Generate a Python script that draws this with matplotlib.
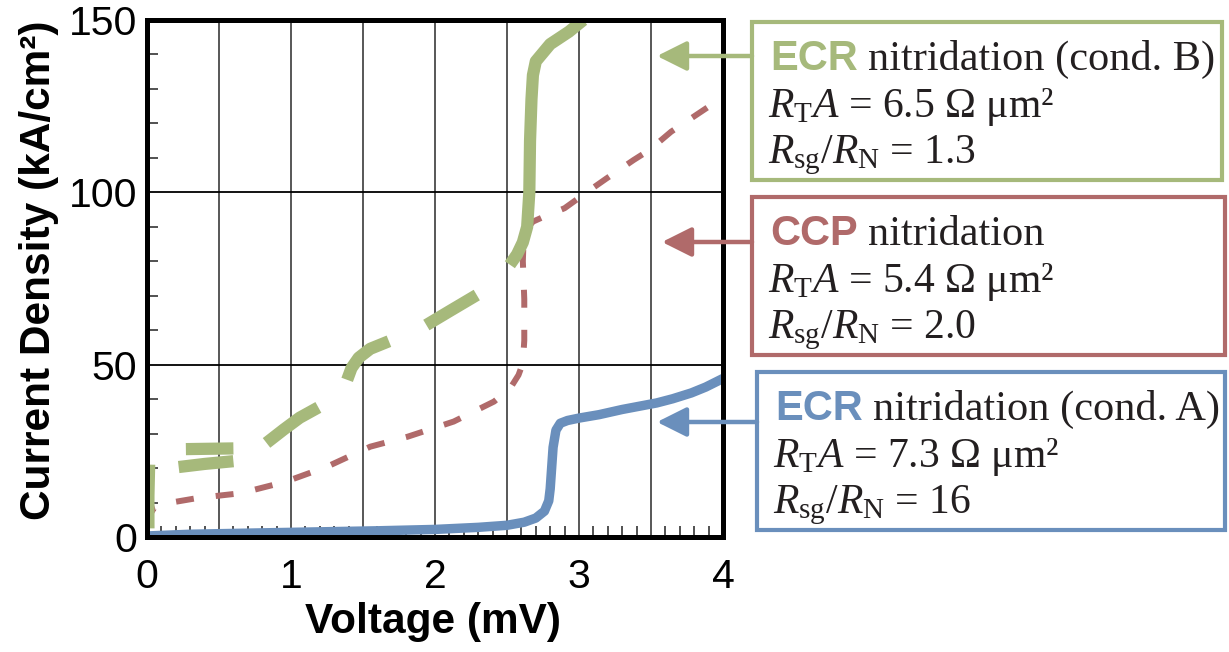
import numpy as np
import matplotlib
matplotlib.use('Agg')
import matplotlib.pyplot as plt
from matplotlib.patches import Rectangle, FancyArrowPatch
from matplotlib.ticker import MultipleLocator, FuncFormatter

plt.rcParams['font.family'] = 'Liberation Sans'
plt.rcParams['mathtext.fontset'] = 'custom'
plt.rcParams['mathtext.rm'] = 'Liberation Serif'
plt.rcParams['mathtext.it'] = 'Liberation Serif:italic'

# ECR nitridation (cond. A) - blue, solid
v_ecr_a = [0, 0.3, 0.8, 1.2, 1.6, 2.0, 2.3, 2.5, 2.62, 2.7, 2.76, 2.79, 2.80, 2.81,
           2.82, 2.84, 2.87, 2.92, 3.0, 3.14, 3.3, 3.54, 3.65, 3.78, 3.88, 4.0]
j_ecr_a = [0.3, 0.8, 1.2, 1.5, 1.8, 2.2, 2.8, 3.4, 4.3, 5.5, 7.5, 10.5, 14, 20,
           26, 31, 33, 33.8, 34.5, 35.5, 37, 38.9, 40.1, 41.8, 43.5, 46]

# CCP nitridation - red, short dashes
v_ccp = [0, 0.02, 0.05, 0.14, 0.35, 0.65, 0.96, 1.25, 1.55, 1.81, 2.13, 2.41, 2.52,
         2.58, 2.61, 2.62, 2.62, 2.61, 2.615, 2.63, 2.68, 2.76, 2.90, 3.06, 3.19,
         3.38, 3.49, 3.64, 3.78, 3.97, 4.0]
j_ccp = [4, 6.5, 8.5, 9.8, 11.3, 12.7, 16, 20.4, 26.2, 29.1, 33.5, 39.3, 43,
         47, 50.4, 57, 69, 80, 86, 89, 91.5, 93, 95.4, 100.2, 104,
         109.4, 112.3, 117.6, 121.5, 126.8, 127.5]

# ECR nitridation (cond. B) - green, measured in pieces (nan = no data)
v_ecr_b = [0.01, 0.01, 0.015, np.nan,
           0.22, 0.40, 0.60, np.nan,
           0.27, 0.60, np.nan,
           0.83, 0.95, 1.06, 1.19, np.nan,
           1.39, 1.42, 1.47, 1.55, 1.68, np.nan,
           1.94, 2.10, 2.29, np.nan,
           2.52, 2.57, 2.61, 2.64, 2.655, 2.66, 2.67, 2.68, 2.70, 2.80, 2.93, 3.03]
j_ecr_b = [2.5, 12, 21, np.nan,
           20.3, 21.2, 22.0, np.nan,
           25.5, 25.7, np.nan,
           27.3, 31.2, 34.6, 37.6, np.nan,
           45.6, 49.0, 52.0, 54.6, 56.8, np.nan,
           61.5, 65.5, 70.2, np.nan,
           79.0, 82.0, 85.5, 90, 100, 115, 127, 134, 138, 143, 146.6, 150]

green = '#a6b97b'
red = '#b06a6a'
blue = '#6a8fbc'

W, H = 1229, 652
fig = plt.figure(figsize=(W / 100, H / 100), dpi=100)
ax = fig.add_axes([147 / W, 1 - 537 / H, 576 / W, 517 / H])

ax.plot(v_ecr_a, j_ecr_a, color=blue, lw=6.8, solid_capstyle='butt', zorder=3)
ax.plot(v_ccp, j_ccp, color=red, lw=4.3, linestyle=(0, (3.0, 3.7)),
        dash_capstyle='butt', zorder=3)
ax.plot(v_ecr_b, j_ecr_b, color=green, lw=8.8, solid_capstyle='butt', zorder=3)

ax.set_xlim(0, 4)
ax.set_ylim(0, 150)

ax.xaxis.set_major_locator(MultipleLocator(0.5))
ax.xaxis.set_minor_locator(MultipleLocator(0.1))
ax.xaxis.set_major_formatter(FuncFormatter(lambda v, p: '%d' % v if abs(v - round(v)) < 1e-6 else ''))
ax.yaxis.set_major_locator(MultipleLocator(50))
ax.yaxis.set_minor_locator(MultipleLocator(10))

ax.grid(True, which='major', axis='x', color='#4a4a4a', lw=1.3)
ax.grid(True, which='major', axis='y', color='black', lw=1.3)
ax.tick_params(which='major', length=0, labelsize=29.5)
ax.tick_params(axis='x', which='major', pad=15)
ax.tick_params(axis='y', which='major', pad=7)
ax.tick_params(which='minor', direction='in', length=8, width=1.2, color='#333333')

for s in ax.spines.values():
    s.set_linewidth(3.6)
    s.set_zorder(5)

ax.set_xlabel('Voltage (mV)', fontsize=30.5, fontweight='bold')
ax.set_ylabel('Current Density (kA/cm²)', fontsize=30.5, fontweight='bold')
ax.xaxis.set_label_coords(0.497, -0.125)
ax.yaxis.set_label_coords(-0.152, 0.515)

# annotation boxes: (colour, bold word, rest of title, R_T A, Rsg/RN, box px, arrow y px, arrow tip px)
boxes = [
    (green, 'ECR', 'nitridation (cond. B)', '6.5', '1.3', (752, 22, 1222, 180), 56, 657),
    (red, 'CCP', 'nitridation', '5.4', '2.0', (752, 197, 1225, 355), 242, 662),
    (blue, 'ECR', 'nitridation (cond. A)', '7.3', '16', (757, 372, 1225, 530), 422, 657),
]

def fx(px):
    return px / W

def fy(py):
    return 1 - py / H

fig.canvas.draw()
renderer = fig.canvas.get_renderer()
for col, word, rest, rta, ratio, (x0, y0, x1, y1), ay, tip in boxes:
    fig.add_artist(Rectangle((fx(x0), fy(y1)), fx(x1 - x0), (y1 - y0) / H,
                             transform=fig.transFigure, fill=False,
                             edgecolor=col, lw=3))
    arr = FancyArrowPatch((fx(x0), fy(ay)), (fx(tip), fy(ay)),
                          transform=fig.transFigure,
                          arrowstyle='-|>,head_length=0.5,head_width=0.25',
                          mutation_scale=36, lw=3.2, color=col,
                          shrinkA=0, shrinkB=0)
    fig.add_artist(arr)
    tx = x0 + 18
    t1 = fig.text(fx(tx), fy(y0 + 48), word, color=col, fontsize=30,
                  fontweight='bold', va='baseline')
    ext = t1.get_window_extent(renderer)
    fig.text(ext.x1 / W + 10 / W, fy(y0 + 48), rest, color='#231f20', fontsize=30.5,
             family='Liberation Serif', va='baseline')
    fig.text(fx(tx - 2), fy(y0 + 95), r'$R_{\mathrm{T}}A$ = ' + rta + ' Ω μm²',
             color='#231f20', fontsize=30, family='Liberation Serif', va='baseline')
    fig.text(fx(tx - 2), fy(y0 + 141), r'$R_{\mathrm{sg}}/R_{\mathrm{N}}$ = ' + ratio,
             color='#231f20', fontsize=30, family='Liberation Serif', va='baseline')

fig.savefig('out.png', dpi=100)
